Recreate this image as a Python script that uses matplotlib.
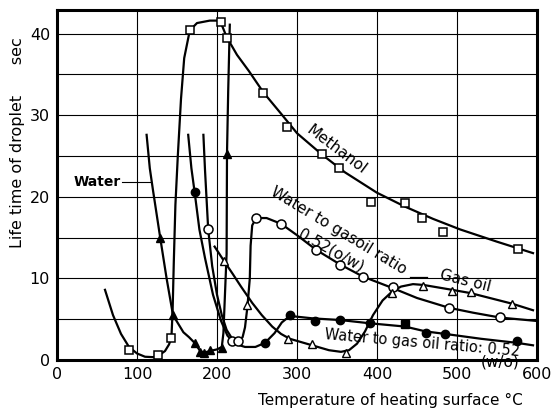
import matplotlib
matplotlib.use("Agg")
import matplotlib.pyplot as plt

# ---- Methanol (open squares) ----
meth_line_x = [60, 70, 80, 90, 100, 110, 120, 128, 135, 140, 143, 144.5, 146, 148, 151, 155, 159, 166, 175, 191, 200, 205, 212, 225, 240, 258, 280, 300, 331, 360, 400, 435, 470, 504, 550, 595]
meth_line_y = [8.6, 5.5, 3.2, 1.6, 0.8, 0.4, 0.35, 0.6, 1.1, 1.9, 2.7, 6, 12, 19, 25, 32, 37, 40.4, 41.3, 41.6, 41.6, 41.3, 39.6, 37.4, 35.4, 32.8, 30.2, 27.8, 25.2, 23.0, 20.5, 18.8, 17.3, 16.0, 14.5, 13.1]
meth_pts_x = [90, 126, 143, 166, 205, 212, 258, 287, 331, 352, 392, 435, 456, 483, 576]
meth_pts_y = [1.2, 0.6, 2.7, 40.4, 41.4, 39.5, 32.7, 28.5, 25.2, 23.5, 19.4, 19.2, 17.4, 15.7, 13.6]

# ---- Water (filled triangles) ----
water_line_x = [112, 116, 120, 129, 137, 145, 158, 165, 172, 179, 184, 191, 200, 206, 208, 212, 212.5, 214, 216]
water_line_y = [27.6, 23.5, 20.8, 15.0, 10.0, 5.5, 3.4, 2.8, 2.1, 1.1, 0.9, 1.1, 1.3, 1.6, 3.3, 13, 25.3, 33, 41.1]
water_pts_x = [129, 145, 172, 179, 184, 191, 206, 212.5]
water_pts_y = [15.0, 5.5, 2.1, 1.0, 0.9, 1.2, 1.5, 25.3]

# ---- Water to gas oil ratio 0.52 (w/o) (filled circles) ----
wo_line_x = [164, 168, 172, 178, 185, 195, 205, 213, 222, 235, 248, 260, 272, 281, 291, 320, 354, 391, 435, 461, 485, 530, 575, 595]
wo_line_y = [27.6, 23.5, 20.6, 16.0, 12.5, 8.0, 4.8, 3.0, 2.0, 1.6, 1.6, 2.1, 3.3, 4.6, 5.4, 5.1, 4.9, 4.5, 4.1, 3.5, 3.2, 2.6, 2.1, 1.8]
wo_pts_x = [172, 260, 291, 322, 354, 391, 461, 485, 575]
wo_pts_y = [20.6, 2.1, 5.5, 4.8, 4.9, 4.5, 3.3, 3.2, 2.3]
wo_sq_x = [435]
wo_sq_y = [4.4]

# ---- Water to gasoil ratio 0.52 (o/w) (open circles) ----
ow_line_x = [183, 185, 189, 194, 200, 206, 212, 219, 226, 232, 235, 238, 241, 242, 244, 249, 262, 280, 300, 324, 354, 383, 420, 450, 490, 520, 554, 598]
ow_line_y = [27.6, 23.3, 16.0, 11.5, 8.0, 5.5, 3.7, 2.6, 2.3, 2.8, 4.0, 6.5, 10, 14, 16.5, 17.4, 17.4, 16.7, 15.3, 13.5, 11.7, 10.2, 8.8, 7.6, 6.4, 5.8, 5.2, 4.8]
ow_pts_x = [189, 219, 226, 249, 280, 324, 354, 383, 420, 490, 554]
ow_pts_y = [16.0, 2.3, 2.3, 17.4, 16.7, 13.5, 11.7, 10.2, 8.9, 6.4, 5.3]

# ---- Gas oil (open triangles) ----
gas_line_x = [197, 209, 220, 230, 244, 256, 269, 280, 291, 305, 319, 340, 355, 365, 375, 385, 395, 407, 419, 430, 445, 458, 494, 517, 545, 569, 595]
gas_line_y = [13.9, 12.1, 10.5, 9.0, 7.0, 5.5, 4.1, 3.2, 2.6, 2.2, 1.8, 1.2, 1.0, 1.2, 2.0, 3.5, 5.5, 7.3, 8.4, 9.0, 9.3, 9.2, 8.6, 8.2, 7.5, 6.9, 6.1]
gas_pts_x = [209, 237, 289, 319, 361, 419, 458, 494, 517, 569]
gas_pts_y = [12.1, 6.7, 2.6, 1.9, 0.8, 8.2, 9.1, 8.5, 8.3, 6.9]

x_ticks = [0, 100, 200, 300, 400, 500, 600]
y_ticks = [0, 10, 20, 30, 40]

W, H = 559, 415
fig = plt.figure(figsize=(W / 100, H / 100), dpi=100)
ax = fig.add_axes([57 / W, 1 - 360 / H, 480 / W, 350 / H])
ax.set_xlim(0, 600)
ax.set_ylim(0, 42.9)

for v in range(100, 600, 100):
    ax.axvline(v, color="black", lw=0.8, zorder=1)
for v in range(5, 45, 5):
    ax.axhline(v, color="black", lw=0.8, zorder=1)

lw = 1.6
k = "black"
ax.plot(meth_line_x, meth_line_y, color=k, lw=lw, zorder=2)
ax.plot(meth_pts_x, meth_pts_y, ls="none", marker="s", ms=6, mfc="white", mec=k, mew=1.1, zorder=3)

ax.plot(water_line_x, water_line_y, color=k, lw=lw, zorder=2)
ax.plot(water_pts_x, water_pts_y, ls="none", marker="^", ms=6, mfc=k, mec=k, zorder=3)

ax.plot(wo_line_x, wo_line_y, color=k, lw=lw, zorder=2)
ax.plot(wo_pts_x, wo_pts_y, ls="none", marker="o", ms=6, mfc=k, mec=k, zorder=3)
ax.plot(wo_sq_x, wo_sq_y, ls="none", marker="s", ms=6, mfc=k, mec=k, zorder=3)

ax.plot(ow_line_x, ow_line_y, color=k, lw=lw, zorder=2)
ax.plot(ow_pts_x, ow_pts_y, ls="none", marker="o", ms=6.5, mfc="white", mec=k, mew=1.1, zorder=3)

ax.plot(gas_line_x, gas_line_y, color=k, lw=lw, zorder=2)
ax.plot(gas_pts_x, gas_pts_y, ls="none", marker="^", ms=5.5, mfc="white", mec=k, mew=1.0, zorder=3)

for s in ax.spines.values():
    s.set_linewidth(2.2)
ax.set_xticks(x_ticks)
ax.set_yticks(y_ticks)
ax.tick_params(length=0, labelsize=11.5, pad=5)

# annotations
ax.text(349, 25.8, "Methanol", rotation=-37, ha="center", va="center", fontsize=11)
ax.text(352, 15.8, "Water to gasoil ratio", rotation=-31, ha="center", va="center", fontsize=11)
ax.text(342, 13.4, "0.52(o/w)", rotation=-29, ha="center", va="center", fontsize=11)
ax.plot([441, 462], [10.2, 10.2], color=k, lw=0.9)
ax.text(510, 9.7, "Gas oil", rotation=-14, ha="center", va="center", fontsize=11)
ax.text(457, 2.1, "Water to gas oil ratio: 0.52", rotation=-5, ha="center", va="center", fontsize=10.5)
ax.text(554, -0.3, "(w/o)", ha="center", va="center", fontsize=11, clip_on=False)
ax.text(50, 21.8, "Water", ha="center", va="center", fontsize=10, fontweight="bold")
ax.plot([81, 116], [21.8, 21.8], color=k, lw=0.8)

fig.text(18 / W, 1 - 143 / H, "Life time of droplet      sec", rotation=90, ha="center", va="center", fontsize=11.5)
fig.text(390 / W, 1 - 400 / H, "Temperature of heating surface \u00b0C", ha="center", va="center", fontsize=11)

fig.savefig("out.png", dpi=100)
